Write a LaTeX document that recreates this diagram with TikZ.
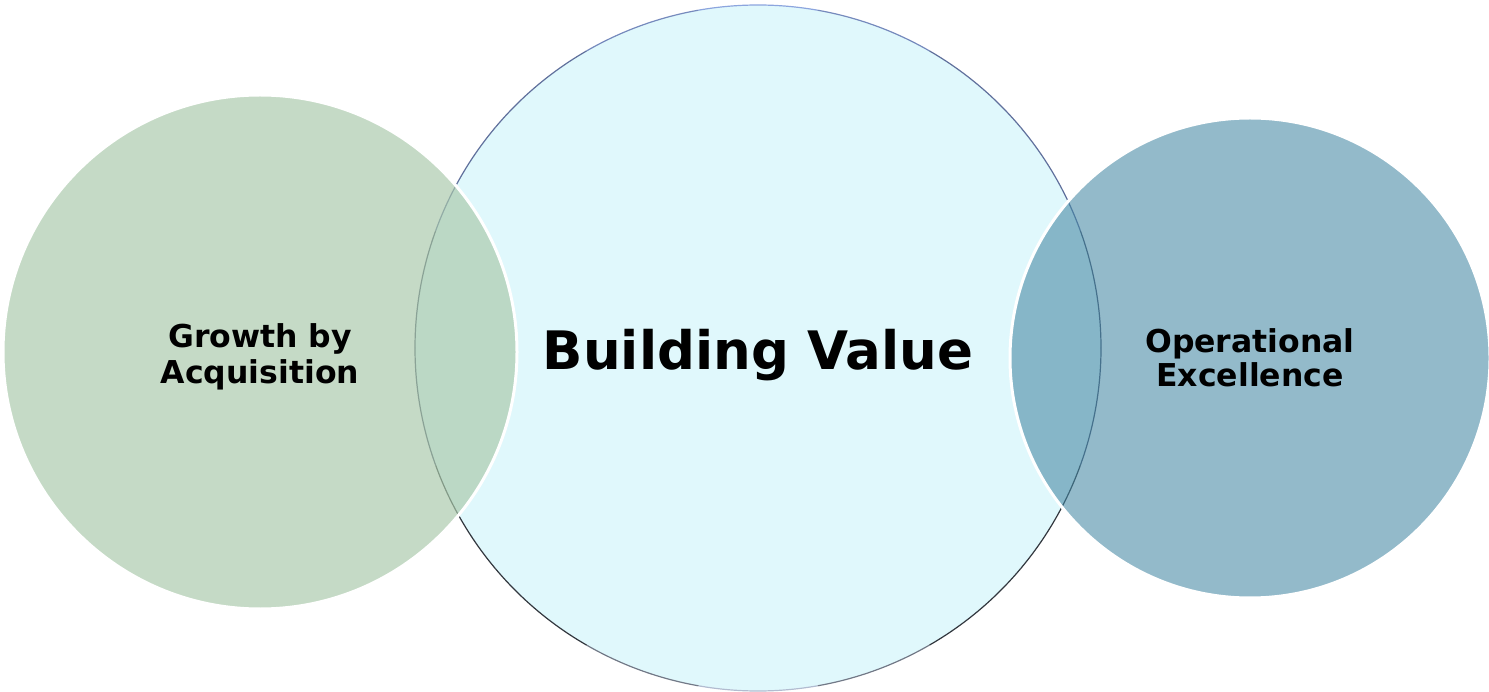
\documentclass[tikz,border=0pt]{standalone}
\usepackage{fontspec}
\setmainfont{DejaVu Sans}
\definecolor{valuefill}{RGB}{224,248,252}
\definecolor{ringA}{RGB}{140,165,222}
\definecolor{ringB}{RGB}{96,112,156}
\definecolor{ringC}{RGB}{72,82,108}
\definecolor{ringD}{RGB}{50,55,62}
\definecolor{ringE}{RGB}{178,188,208}
\definecolor{growthfill}{RGB}{170,201,171}
\definecolor{excelfill}{RGB}{69,136,164}
% lower a line of text without changing the box it takes
\newcommand{\lowertext}[2]{\raisebox{-#1}[\height][\depth]{#2}}

\begin{document}
\begin{tikzpicture}[x=1pt, y=-1pt, every node/.style={circle, inner sep=0pt, align=center, text opacity=1}, thick]

\useasboundingbox (0,0) rectangle (1489,692);

% middle circle first, side circles lie over it
\node[fill=valuefill, minimum size=686pt, font=\bfseries\fontsize{53}{58}\selectfont] (value) at (758,348) {\lowertext{7pt}{Building Value}};

% outline of the middle circle, shaded round (y runs down, so 270 is the top)
\foreach \a/\c in {0/ringC, 20/ringD, 40/ringD, 60/ringD!50!ringE, 80/ringE, 100/ringD!50!ringE, 120/ringD, 140/ringD, 160/ringC,
                   180/ringC, 200/ringB, 220/ringB, 240/ringA!50!ringB, 260/ringA, 280/ringA!50!ringB, 300/ringB, 320/ringB, 340/ringC} {
  \draw[\c, line width=1.2pt] (value.center) ++(\a:343) arc[start angle=\a, delta angle=20, radius=343];
}

\node[fill=growthfill, fill opacity=0.68, draw=white, line width=3pt, minimum size=514pt, font=\bfseries\fontsize{31.5}{35.5}\selectfont] (growth) at (260,352) {\lowertext{5pt}{Growth by}\\\lowertext{5pt}{Acquisition}};
\node[fill=excelfill, fill opacity=0.58, draw=white, line width=3pt, minimum size=480pt, font=\bfseries\fontsize{31.5}{34}\selectfont] (excel) at (1250,358) {Operational\\Excellence};

\end{tikzpicture}
\end{document}
